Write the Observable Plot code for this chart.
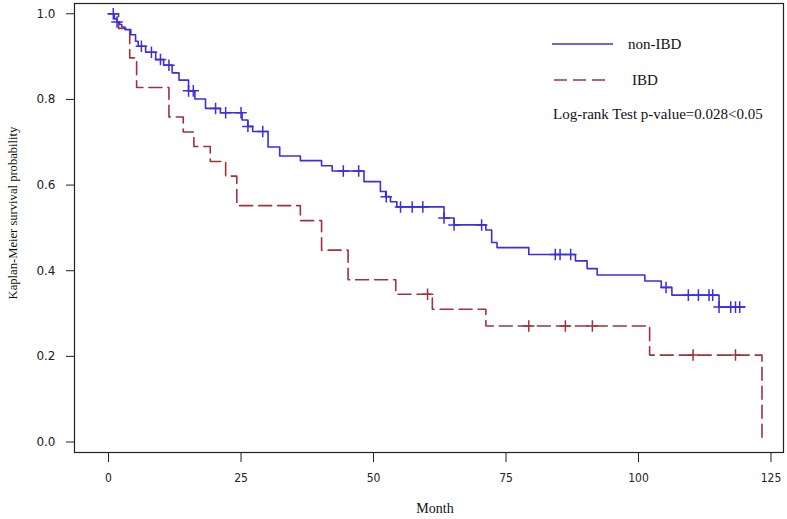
<!DOCTYPE html>
<html>
<head>
<meta charset="utf-8">
<script src="https://cdn.jsdelivr.net/npm/d3@7"></script>
<script src="https://cdn.jsdelivr.net/npm/@observablehq/plot@0.6"></script>
<style>
  body { margin: 0; background: #fff; }
  #wrap { position: relative; width: 787px; height: 519px; }
</style>
</head>
<body>
<div id="wrap"></div>
<script>
// ---- data ----
const seriesNames = ["non-IBD", "IBD"];
const seriesColors = ["#3b2fe0", "#a0323c"];

// non-IBD Kaplan-Meier steps: time of drop (months) and survival after drop
const nonIbdTime = [0, 1.1, 1.6, 2.1, 2.5, 3.1, 4.2, 5.1, 5.6, 7.0, 8.9, 10.4, 12.0, 13.3, 15.1, 16.3, 18.3, 21.1, 25.2, 26.3, 27.2, 30.1, 32.3, 36.2, 40.2, 42.2, 48.2, 51.3, 52.3, 53.2, 54.4, 63.3, 65.2, 71.2, 72.3, 73.3, 79.3, 88.1, 90.3, 92.2, 101.2, 104.3, 106.3, 115.2];
const nonIbdSurv = [1.0, 0.988, 0.981, 0.975, 0.969, 0.963, 0.951, 0.936, 0.924, 0.910, 0.893, 0.880, 0.862, 0.845, 0.820, 0.801, 0.779, 0.769, 0.752, 0.737, 0.725, 0.689, 0.668, 0.657, 0.645, 0.633, 0.608, 0.585, 0.573, 0.561, 0.549, 0.523, 0.507, 0.495, 0.466, 0.454, 0.438, 0.423, 0.405, 0.390, 0.376, 0.361, 0.343, 0.315];
const nonIbdEnd = 120;
const nonIbdCensor = [0.9, 1.6, 6.2, 8.1, 9.8, 11.4, 15.1, 16.0, 20.2, 22.1, 25.0, 26.3, 29.1, 44.3, 47.2, 52.4, 55.1, 57.3, 59.3, 63.3, 65.2, 70.4, 84.3, 85.2, 87.2, 105.2, 109.4, 111.3, 113.3, 114.0, 115.2, 117.4, 118.3, 119.1];

// IBD Kaplan-Meier steps
const ibdTime = [0, 1.9, 4.0, 5.3, 11.4, 14.1, 16.1, 19.2, 22.1, 24.2, 36.2, 40.2, 45.2, 54.2, 61.1, 71.2, 102.1, 123.3];
const ibdSurv = [1.0, 0.966, 0.897, 0.828, 0.759, 0.724, 0.690, 0.655, 0.621, 0.552, 0.517, 0.448, 0.379, 0.345, 0.310, 0.271, 0.203, 0.0];
const ibdEnd = 123.3;
const ibdCensor = [60.2, 79.3, 86.2, 91.3, 110.3, 118.3];

const xTicks = [0, 25, 50, 75, 100, 125];
const yTicks = [0.0, 0.2, 0.4, 0.6, 0.8, 1.0];
const xLabel = "Month";
const yLabel = "Kaplan-Meier survival probability";
const pValueText = "Log-rank Test p-value=0.028<0.05";

// ---- helpers ----
function stepRows(times, surv, end) {
  const rows = times.map((t, i) => ({t, s: surv[i]}));
  if (end > times[times.length - 1]) rows.push({t: end, s: surv[surv.length - 1]});
  return rows;
}
function survAt(times, surv, t) {
  let s = surv[0];
  for (let i = 0; i < times.length; i++) if (times[i] <= t) s = surv[i];
  return s;
}
const nonIbdRows = stepRows(nonIbdTime, nonIbdSurv, nonIbdEnd);
const ibdRows = stepRows(ibdTime, ibdSurv, ibdEnd);
const nonIbdCens = nonIbdCensor.map(t => ({t, s: survAt(nonIbdTime, nonIbdSurv, t)}));
const ibdCens = ibdCensor.map(t => ({t, s: survAt(ibdTime, ibdSurv, t)}));

const serif = "'Liberation Serif', 'Times New Roman', serif";
const dash = "13,6";

const chart = Plot.plot({
  width: 787,
  height: 519,
  marginLeft: 74,
  marginRight: 4,
  marginTop: 3,
  marginBottom: 67,
  x: {domain: [-6.42, 127.36]},
  y: {domain: [-0.0245, 1.024]},
  style: {fontFamily: "'DejaVu Sans', sans-serif", fontSize: "12px", color: "#222", background: "#fff"},
  marks: [
    Plot.frame({stroke: "#222", strokeWidth: 1.2}),
    Plot.axisY({ticks: yTicks, tickFormat: d3.format(".1f"), tickSize: 8, tickPadding: 11, label: null, fontSize: 12}),
    Plot.axisX({ticks: xTicks, tickSize: 10, tickPadding: 11, label: null, fontSize: 12, fontFamily: "'DejaVu Sans Condensed', 'DejaVu Sans', sans-serif"}),
    Plot.line(ibdRows, {x: "t", y: "s", curve: "step-after", stroke: seriesColors[1], strokeWidth: 1.6, strokeDasharray: dash}),
    Plot.line(nonIbdRows, {x: "t", y: "s", curve: "step-after", stroke: seriesColors[0], strokeWidth: 1.6}),
    Plot.dot(ibdCens, {x: "t", y: "s", symbol: "plus", r: 3.8, stroke: seriesColors[1], strokeWidth: 1.5}),
    Plot.dot(nonIbdCens, {x: "t", y: "s", symbol: "plus", r: 3.8, stroke: seriesColors[0], strokeWidth: 1.5}),
    Plot.text([yLabel], {text: d => d, frameAnchor: "left", textAnchor: "middle", lineAnchor: "middle", rotate: -90, dx: -62, dy: -15, fontFamily: serif, fontSize: 12.6, fill: "#111"}),
    Plot.text([xLabel], {text: d => d, frameAnchor: "bottom", textAnchor: "middle", lineAnchor: "middle", dx: 6, dy: 56, fontFamily: serif, fontSize: 14, fill: "#111"})
  ]
});
document.getElementById("wrap").appendChild(chart);

// ---- legend overlay (inside the plot frame, top right) ----
const legendLayout = [
  {x1: 552, x2: 613, y: 44, tx: 628},
  {x1: 554, x2: 610, y: 80, tx: 632}
];
const leg = d3.select("#wrap").append("svg")
  .attr("width", 787).attr("height", 519)
  .style("position", "absolute").style("left", "0px").style("top", "0px")
  .style("pointer-events", "none");
seriesNames.forEach((name, i) => {
  const L = legendLayout[i];
  leg.append("line")
    .attr("x1", L.x1).attr("x2", L.x2).attr("y1", L.y).attr("y2", L.y)
    .attr("stroke", seriesColors[i]).attr("stroke-width", 1.6)
    .attr("stroke-dasharray", i === 1 ? dash : null);
  leg.append("text")
    .attr("x", L.tx).attr("y", L.y).attr("dy", "0.35em")
    .attr("font-family", serif).attr("font-size", 15).attr("fill", "#111")
    .text(name);
});
leg.append("text")
  .attr("x", 553).attr("y", 114).attr("dy", "0.35em")
  .attr("font-family", serif).attr("font-size", 15).attr("fill", "#111")
  .text(pValueText);
</script>
</body>
</html>
